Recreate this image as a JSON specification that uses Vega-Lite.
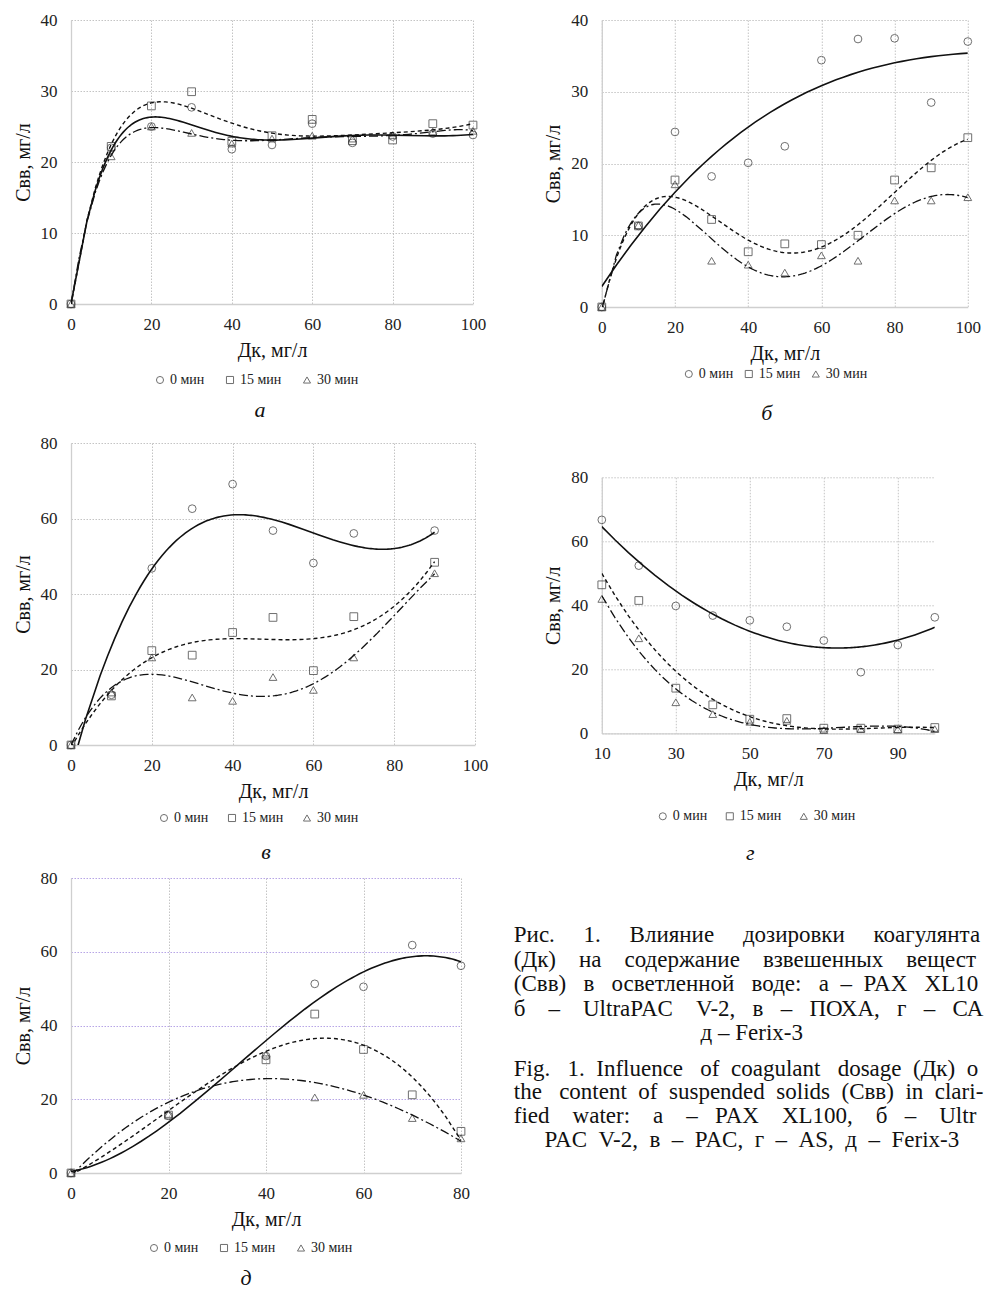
{
  "$schema": "https://vega.github.io/schema/vega-lite/v6.json",
  "padding": {"left": 13, "top": 11, "right": 0, "bottom": 0},
  "config": {
    "view": {"stroke": null},
    "font": "Liberation Serif",
    "axis": {"labelFont": "Liberation Serif", "labelFontSize": 17, "labelColor": "#222", "titleFont": "Liberation Serif", "titleFontSize": 20, "titleFontWeight": "normal", "titleColor": "#111", "ticks": false, "grid": true, "gridColor": "#b5b5b5", "gridDash": [1.5, 1.5], "gridWidth": 0.8, "domainColor": "#cfcfcf", "domainWidth": 1.3, "labelFlush": false, "labelOverlap": false},
    "axisX": {"labelPadding": 12, "titlePadding": 8},
    "axisY": {"labelPadding": 14, "titlePadding": 7},
    "legend": {"orient": "none", "direction": "horizontal", "title": null, "symbolSize": 50, "symbolStrokeWidth": 1, "symbolStrokeColor": "#333", "symbolFillColor": "transparent", "labelFont": "Liberation Serif", "labelFontSize": 14, "labelColor": "#222", "labelOffset": 3, "padding": 0},
    "title": {"font": "Liberation Serif", "fontSize": 22, "fontStyle": "italic", "fontWeight": "normal", "orient": "bottom", "anchor": "middle", "frame": "group", "color": "#111"}
  },
  "datasets": {
    "pa": [
      {"x": 0, "y": 0, "s": "0 мин"}, {"x": 10, "y": 22.0, "s": "0 мин"}, {"x": 20, "y": 25.0, "s": "0 мин"}, {"x": 30, "y": 27.7, "s": "0 мин"}, {"x": 40, "y": 21.8, "s": "0 мин"}, {"x": 50, "y": 22.4, "s": "0 мин"}, {"x": 60, "y": 25.4, "s": "0 мин"}, {"x": 70, "y": 22.7, "s": "0 мин"}, {"x": 80, "y": 23.6, "s": "0 мин"}, {"x": 90, "y": 24.0, "s": "0 мин"}, {"x": 100, "y": 23.8, "s": "0 мин"},
      {"x": 0, "y": 0, "s": "15 мин"}, {"x": 10, "y": 22.2, "s": "15 мин"}, {"x": 20, "y": 27.9, "s": "15 мин"}, {"x": 30, "y": 29.9, "s": "15 мин"}, {"x": 40, "y": 22.9, "s": "15 мин"}, {"x": 50, "y": 23.7, "s": "15 мин"}, {"x": 60, "y": 26.0, "s": "15 мин"}, {"x": 70, "y": 23.0, "s": "15 мин"}, {"x": 80, "y": 23.1, "s": "15 мин"}, {"x": 90, "y": 25.4, "s": "15 мин"}, {"x": 100, "y": 25.2, "s": "15 мин"},
      {"x": 0, "y": 0, "s": "30 мин"}, {"x": 10, "y": 20.8, "s": "30 мин"}, {"x": 20, "y": 25.0, "s": "30 мин"}, {"x": 30, "y": 24.1, "s": "30 мин"}, {"x": 40, "y": 22.6, "s": "30 мин"}, {"x": 50, "y": 23.3, "s": "30 мин"}, {"x": 60, "y": 23.7, "s": "30 мин"}, {"x": 70, "y": 23.3, "s": "30 мин"}, {"x": 80, "y": 23.8, "s": "30 мин"}, {"x": 90, "y": 24.3, "s": "30 мин"}, {"x": 100, "y": 24.4, "s": "30 мин"}
    ],
    "pb": [
      {"x": 0, "y": 0, "s": "0 мин"}, {"x": 10, "y": 11.3, "s": "0 мин"}, {"x": 20, "y": 24.4, "s": "0 мин"}, {"x": 30, "y": 18.2, "s": "0 мин"}, {"x": 40, "y": 20.1, "s": "0 мин"}, {"x": 50, "y": 22.4, "s": "0 мин"}, {"x": 60, "y": 34.4, "s": "0 мин"}, {"x": 70, "y": 37.35, "s": "0 мин"}, {"x": 80, "y": 37.45, "s": "0 мин"}, {"x": 90, "y": 28.5, "s": "0 мин"}, {"x": 100, "y": 37.0, "s": "0 мин"},
      {"x": 0, "y": 0, "s": "15 мин"}, {"x": 10, "y": 11.3, "s": "15 мин"}, {"x": 20, "y": 17.7, "s": "15 мин"}, {"x": 30, "y": 12.2, "s": "15 мин"}, {"x": 40, "y": 7.7, "s": "15 мин"}, {"x": 50, "y": 8.8, "s": "15 мин"}, {"x": 60, "y": 8.7, "s": "15 мин"}, {"x": 70, "y": 10.0, "s": "15 мин"}, {"x": 80, "y": 17.7, "s": "15 мин"}, {"x": 90, "y": 19.4, "s": "15 мин"}, {"x": 100, "y": 23.6, "s": "15 мин"},
      {"x": 0, "y": 0, "s": "30 мин"}, {"x": 10, "y": 11.4, "s": "30 мин"}, {"x": 20, "y": 17.1, "s": "30 мин"}, {"x": 30, "y": 6.45, "s": "30 мин"}, {"x": 40, "y": 5.9, "s": "30 мин"}, {"x": 50, "y": 4.8, "s": "30 мин"}, {"x": 60, "y": 7.2, "s": "30 мин"}, {"x": 70, "y": 6.45, "s": "30 мин"}, {"x": 80, "y": 14.85, "s": "30 мин"}, {"x": 90, "y": 14.85, "s": "30 мин"}, {"x": 100, "y": 15.3, "s": "30 мин"}
    ],
    "pv": [
      {"x": 0, "y": 0, "s": "0 мин"}, {"x": 10, "y": 13.3, "s": "0 мин"}, {"x": 20, "y": 46.8, "s": "0 мин"}, {"x": 30, "y": 62.6, "s": "0 мин"}, {"x": 40, "y": 69.1, "s": "0 мин"}, {"x": 50, "y": 56.8, "s": "0 мин"}, {"x": 60, "y": 48.2, "s": "0 мин"}, {"x": 70, "y": 56.05, "s": "0 мин"}, {"x": 90, "y": 56.8, "s": "0 мин"},
      {"x": 0, "y": 0, "s": "15 мин"}, {"x": 10, "y": 13.0, "s": "15 мин"}, {"x": 20, "y": 25.0, "s": "15 мин"}, {"x": 30, "y": 23.8, "s": "15 мин"}, {"x": 40, "y": 29.8, "s": "15 мин"}, {"x": 50, "y": 33.8, "s": "15 мин"}, {"x": 60, "y": 19.7, "s": "15 мин"}, {"x": 70, "y": 34.0, "s": "15 мин"}, {"x": 90, "y": 48.4, "s": "15 мин"},
      {"x": 0, "y": 0, "s": "30 мин"}, {"x": 10, "y": 13.9, "s": "30 мин"}, {"x": 20, "y": 23.2, "s": "30 мин"}, {"x": 30, "y": 12.6, "s": "30 мин"}, {"x": 40, "y": 11.7, "s": "30 мин"}, {"x": 50, "y": 18.0, "s": "30 мин"}, {"x": 60, "y": 14.6, "s": "30 мин"}, {"x": 70, "y": 23.2, "s": "30 мин"}, {"x": 90, "y": 45.5, "s": "30 мин"}
    ],
    "pg": [
      {"x": 10, "y": 66.7, "s": "0 мин"}, {"x": 20, "y": 52.4, "s": "0 мин"}, {"x": 30, "y": 39.8, "s": "0 мин"}, {"x": 40, "y": 36.8, "s": "0 мин"}, {"x": 50, "y": 35.3, "s": "0 мин"}, {"x": 60, "y": 33.3, "s": "0 мин"}, {"x": 70, "y": 29.0, "s": "0 мин"}, {"x": 80, "y": 19.1, "s": "0 мин"}, {"x": 90, "y": 27.6, "s": "0 мин"}, {"x": 100, "y": 36.25, "s": "0 мин"},
      {"x": 10, "y": 46.4, "s": "15 мин"}, {"x": 20, "y": 41.5, "s": "15 мин"}, {"x": 30, "y": 14.1, "s": "15 мин"}, {"x": 40, "y": 8.9, "s": "15 мин"}, {"x": 50, "y": 4.4, "s": "15 мин"}, {"x": 60, "y": 4.6, "s": "15 мин"}, {"x": 70, "y": 1.6, "s": "15 мин"}, {"x": 80, "y": 1.6, "s": "15 мин"}, {"x": 90, "y": 1.3, "s": "15 мин"}, {"x": 100, "y": 1.8, "s": "15 мин"},
      {"x": 10, "y": 42.0, "s": "30 мин"}, {"x": 20, "y": 29.7, "s": "30 мин"}, {"x": 30, "y": 9.7, "s": "30 мин"}, {"x": 40, "y": 6.0, "s": "30 мин"}, {"x": 50, "y": 3.6, "s": "30 мин"}, {"x": 60, "y": 3.9, "s": "30 мин"}, {"x": 70, "y": 1.0, "s": "30 мин"}, {"x": 80, "y": 1.3, "s": "30 мин"}, {"x": 90, "y": 1.3, "s": "30 мин"}, {"x": 100, "y": 1.3, "s": "30 мин"}
    ],
    "pd": [
      {"x": 0, "y": 0, "s": "0 мин"}, {"x": 20, "y": 15.5, "s": "0 мин"}, {"x": 40, "y": 31.7, "s": "0 мин"}, {"x": 50, "y": 51.3, "s": "0 мин"}, {"x": 60, "y": 50.5, "s": "0 мин"}, {"x": 70, "y": 61.8, "s": "0 мин"}, {"x": 80, "y": 56.2, "s": "0 мин"},
      {"x": 0, "y": 0, "s": "15 мин"}, {"x": 20, "y": 15.7, "s": "15 мин"}, {"x": 40, "y": 30.7, "s": "15 мин"}, {"x": 50, "y": 43.1, "s": "15 мин"}, {"x": 60, "y": 33.5, "s": "15 мин"}, {"x": 70, "y": 21.2, "s": "15 мин"}, {"x": 80, "y": 11.3, "s": "15 мин"},
      {"x": 0, "y": 0, "s": "30 мин"}, {"x": 20, "y": 16.0, "s": "30 мин"}, {"x": 40, "y": 32.1, "s": "30 мин"}, {"x": 50, "y": 20.5, "s": "30 мин"}, {"x": 60, "y": 21.2, "s": "30 мин"}, {"x": 70, "y": 14.9, "s": "30 мин"}, {"x": 80, "y": 9.4, "s": "30 мин"}
    ],
    "capRu": [
      {"line": 1, "part": "body", "t": "Рис.\u00a0\u00a0\u00a0\u00a0\u00a01.\u00a0\u00a0\u00a0\u00a0\u00a0Влияние\u00a0\u00a0\u00a0\u00a0\u00a0дозировки\u00a0\u00a0\u00a0\u00a0\u00a0коагулянта"},
      {"line": 2, "part": "body", "t": "(Дк)\u00a0\u00a0\u00a0\u00a0на\u00a0\u00a0\u00a0\u00a0содержание\u00a0\u00a0\u00a0\u00a0взвешенных\u00a0\u00a0\u00a0\u00a0веществ"},
      {"line": 3, "part": "body", "t": "(Свв)\u00a0\u00a0\u00a0в\u00a0\u00a0\u00a0осветленной\u00a0\u00a0\u00a0воде:\u00a0\u00a0\u00a0а\u00a0\u00a0–\u00a0\u00a0PAX\u00a0\u00a0\u00a0XL100,"},
      {"line": 4, "part": "body", "t": "б\u00a0\u00a0\u00a0\u00a0–\u00a0\u00a0\u00a0\u00a0UltraPAC\u00a0\u00a0\u00a0\u00a0V-2,\u00a0\u00a0\u00a0в\u00a0\u00a0\u00a0–\u00a0\u00a0\u00a0ПОХА,\u00a0\u00a0\u00a0г\u00a0\u00a0\u00a0–\u00a0\u00a0\u00a0СА,"},
      {"line": 5, "part": "end", "t": "д – Ferix-3"}
    ],
    "capEn": [
      {"line": 1, "part": "body", "t": "Fig.\u00a0\u00a0\u00a01.\u00a0\u00a0Influence\u00a0\u00a0\u00a0of\u00a0\u00a0coagulant\u00a0\u00a0\u00a0dosage\u00a0\u00a0(Дк)\u00a0\u00a0on"},
      {"line": 2, "part": "body", "t": "the\u00a0\u00a0\u00a0content\u00a0\u00a0of\u00a0\u00a0suspended\u00a0\u00a0solids\u00a0\u00a0(Свв)\u00a0\u00a0in\u00a0\u00a0clari-"},
      {"line": 3, "part": "body", "t": "fied\u00a0\u00a0\u00a0\u00a0water:\u00a0\u00a0\u00a0\u00a0а\u00a0\u00a0\u00a0\u00a0–\u00a0\u00a0\u00a0PAX\u00a0\u00a0\u00a0\u00a0XL100,\u00a0\u00a0\u00a0\u00a0б\u00a0\u00a0\u00a0–\u00a0\u00a0\u00a0\u00a0Ultra-"},
      {"line": 4, "part": "end", "t": "PAC\u00a0\u00a0V-2,\u00a0\u00a0в\u00a0\u00a0–\u00a0\u00a0PAC,\u00a0\u00a0г\u00a0\u00a0–\u00a0\u00a0AS,\u00a0\u00a0д\u00a0\u00a0–\u00a0\u00a0Ferix-3"}
    ]
  },
  "bounds": "flush",
  "spacing": 530.8,
  "resolve": {"scale": {"shape": "independent"}, "legend": {"shape": "independent"}},
  "hconcat": [
    {
      "bounds": "flush",
      "spacing": 139,
      "resolve": {"scale": {"shape": "independent"}, "legend": {"shape": "independent"}},
      "vconcat": [
        {
          "width": 402, "height": 284,
          "title": {"text": "а", "dx": -12, "offset": 13},
          "data": {"name": "pa"},
          "encoding": {
            "x": {"field": "x", "type": "quantitative", "scale": {"domain": [0, 100], "nice": false}, "axis": {"values": [0, 20, 40, 60, 80, 100], "title": "Дк, мг/л"}},
            "y": {"field": "y", "type": "quantitative", "scale": {"domain": [0, 40], "nice": false}, "axis": {"values": [0, 10, 20, 30, 40], "title": "Свв, мг/л"}}
          },
          "layer": [
            {"mark": {"type": "point", "filled": false, "color": "#333", "strokeWidth": 1, "size": 60}, "encoding": {"shape": {"field": "s", "type": "nominal", "scale": {"domain": ["0 мин", "15 мин", "30 мин"], "range": ["circle", "square", "triangle-up"]}, "legend": {"legendX": 82, "legendY": 353, "columnPadding": 18}}}},
            {"transform": [{"filter": "datum.s === '0 мин'"}, {"regression": "y", "on": "x", "method": "poly", "order": 6, "extent": [0, 100]}], "mark": {"type": "line", "color": "#111", "strokeWidth": 1.6, "clip": true}},
            {"transform": [{"filter": "datum.s === '15 мин'"}, {"regression": "y", "on": "x", "method": "poly", "order": 6, "extent": [0, 100]}], "mark": {"type": "line", "color": "#111", "strokeWidth": 1.4, "strokeDash": [4, 3], "clip": true}},
            {"transform": [{"filter": "datum.s === '30 мин'"}, {"regression": "y", "on": "x", "method": "poly", "order": 6, "extent": [0, 100]}], "mark": {"type": "line", "color": "#111", "strokeWidth": 1.3, "strokeDash": [9, 3, 2, 3], "clip": true}}
          ]
        },
        {
          "bounds": "flush",
          "spacing": 133,
          "resolve": {"scale": {"shape": "independent"}, "legend": {"shape": "independent"}},
          "vconcat": [
            {
              "width": 404, "height": 302,
              "title": {"text": "в", "dx": -7, "offset": 17},
              "data": {"name": "pv"},
              "encoding": {
                "x": {"field": "x", "type": "quantitative", "scale": {"domain": [0, 100], "nice": false}, "axis": {"values": [0, 20, 40, 60, 80, 100], "title": "Дк, мг/л"}},
                "y": {"field": "y", "type": "quantitative", "scale": {"domain": [0, 80], "nice": false}, "axis": {"values": [0, 20, 40, 60, 80], "title": "Свв, мг/л"}}
              },
              "layer": [
                {"mark": {"type": "point", "filled": false, "color": "#333", "strokeWidth": 1, "size": 60}, "encoding": {"shape": {"field": "s", "type": "nominal", "scale": {"domain": ["0 мин", "15 мин", "30 мин"], "range": ["circle", "square", "triangle-up"]}, "legend": {"legendX": 86, "legendY": 368, "columnPadding": 16}}}},
                {"transform": [{"filter": "datum.s === '0 мин'"}, {"regression": "y", "on": "x", "method": "poly", "order": 3, "extent": [0, 90]}], "mark": {"type": "line", "color": "#111", "strokeWidth": 1.6, "clip": true}},
                {"transform": [{"filter": "datum.s === '15 мин'"}, {"regression": "y", "on": "x", "method": "poly", "order": 3, "extent": [0, 90]}], "mark": {"type": "line", "color": "#111", "strokeWidth": 1.4, "strokeDash": [4, 3], "clip": true}},
                {"transform": [{"filter": "datum.s === '30 мин'"}, {"regression": "y", "on": "x", "method": "poly", "order": 4, "extent": [0, 90]}], "mark": {"type": "line", "color": "#111", "strokeWidth": 1.3, "strokeDash": [9, 3, 2, 3], "clip": true}}
              ]
            },
            {
              "width": 390, "height": 295,
              "title": {"text": "д", "dx": -20, "offset": 13},
              "data": {"name": "pd"},
              "encoding": {
                "x": {"field": "x", "type": "quantitative", "scale": {"domain": [0, 80], "nice": false}, "axis": {"values": [0, 20, 40, 60, 80], "title": "Дк, мг/л"}},
                "y": {"field": "y", "type": "quantitative", "scale": {"domain": [0, 80], "nice": false}, "axis": {"values": [0, 20, 40, 60, 80], "title": "Свв, мг/л", "gridColor": "#a48ee0"}}
              },
              "layer": [
                {"mark": {"type": "point", "filled": false, "color": "#333", "strokeWidth": 1, "size": 60}, "encoding": {"shape": {"field": "s", "type": "nominal", "scale": {"domain": ["0 мин", "15 мин", "30 мин"], "range": ["circle", "square", "triangle-up"]}, "legend": {"legendX": 76, "legendY": 363, "columnPadding": 18}}}},
                {"transform": [{"filter": "datum.s === '0 мин'"}, {"regression": "y", "on": "x", "method": "poly", "order": 3, "extent": [0, 80]}], "mark": {"type": "line", "color": "#111", "strokeWidth": 1.6, "clip": true}},
                {"transform": [{"filter": "datum.s === '15 мин'"}, {"regression": "y", "on": "x", "method": "poly", "order": 3, "extent": [0, 80]}], "mark": {"type": "line", "color": "#111", "strokeWidth": 1.4, "strokeDash": [4, 3], "clip": true}},
                {"transform": [{"filter": "datum.s === '30 мин'"}, {"regression": "y", "on": "x", "method": "poly", "order": 3, "extent": [0, 80]}], "mark": {"type": "line", "color": "#111", "strokeWidth": 1.3, "strokeDash": [9, 3, 2, 3], "clip": true}}
              ]
            }
          ]
        }
      ]
    },
    {
      "bounds": "flush",
      "spacing": 170.3,
      "resolve": {"scale": {"shape": "independent"}, "legend": {"shape": "independent"}},
      "vconcat": [
        {
          "width": 366, "height": 287,
          "title": {"text": "б", "dx": -18, "offset": 22},
          "data": {"name": "pb"},
          "encoding": {
            "x": {"field": "x", "type": "quantitative", "scale": {"domain": [0, 100], "nice": false}, "axis": {"values": [0, 20, 40, 60, 80, 100], "title": "Дк, мг/л"}},
            "y": {"field": "y", "type": "quantitative", "scale": {"domain": [0, 40], "nice": false}, "axis": {"values": [0, 10, 20, 30, 40], "title": "Свв, мг/л"}}
          },
          "layer": [
            {"mark": {"type": "point", "filled": false, "color": "#333", "strokeWidth": 1, "size": 60}, "encoding": {"shape": {"field": "s", "type": "nominal", "scale": {"domain": ["0 мин", "15 мин", "30 мин"], "range": ["circle", "square", "triangle-up"]}, "legend": {"legendX": 80, "legendY": 347, "columnPadding": 8}}}},
            {"transform": [{"filter": "datum.s === '0 мин'"}, {"regression": "y", "on": "x", "method": "poly", "order": 3, "extent": [0, 100]}], "mark": {"type": "line", "color": "#111", "strokeWidth": 1.6, "clip": true}},
            {"transform": [{"filter": "datum.s === '15 мин'"}, {"regression": "y", "on": "x", "method": "poly", "order": 5, "extent": [0, 100]}], "mark": {"type": "line", "color": "#111", "strokeWidth": 1.4, "strokeDash": [4, 3], "clip": true}},
            {"transform": [{"filter": "datum.s === '30 мин'"}, {"regression": "y", "on": "x", "method": "poly", "order": 5, "extent": [0, 100]}], "mark": {"type": "line", "color": "#111", "strokeWidth": 1.3, "strokeDash": [9, 3, 2, 3], "clip": true}}
          ]
        },
        {
          "bounds": "flush",
          "spacing": 201.7,
          "resolve": {"scale": {"shape": "independent"}, "legend": {"shape": "independent"}},
          "vconcat": [
            {
              "width": 333, "height": 256,
              "title": {"text": "г", "dx": -18, "offset": 20},
              "data": {"name": "pg"},
              "encoding": {
                "x": {"field": "x", "type": "quantitative", "scale": {"domain": [10, 100], "nice": false, "zero": false}, "axis": {"values": [10, 30, 50, 70, 90], "title": "Дк, мг/л"}},
                "y": {"field": "y", "type": "quantitative", "scale": {"domain": [0, 80], "nice": false}, "axis": {"values": [0, 20, 40, 60, 80], "title": "Свв, мг/л"}}
              },
              "layer": [
                {"mark": {"type": "point", "filled": false, "color": "#333", "strokeWidth": 1, "size": 60}, "encoding": {"shape": {"field": "s", "type": "nominal", "scale": {"domain": ["0 мин", "15 мин", "30 мин"], "range": ["circle", "square", "triangle-up"]}, "legend": {"legendX": 54, "legendY": 332, "columnPadding": 15}}}},
                {"transform": [{"filter": "datum.s === '0 мин'"}, {"regression": "y", "on": "x", "method": "poly", "order": 2, "extent": [10, 100]}], "mark": {"type": "line", "color": "#111", "strokeWidth": 1.6, "clip": true}},
                {"transform": [{"filter": "datum.s === '15 мин'"}, {"regression": "y", "on": "x", "method": "poly", "order": 3, "extent": [10, 100]}], "mark": {"type": "line", "color": "#111", "strokeWidth": 1.4, "strokeDash": [4, 3], "clip": true}},
                {"transform": [{"filter": "datum.s === '30 мин'"}, {"regression": "y", "on": "x", "method": "poly", "order": 3, "extent": [10, 100]}], "mark": {"type": "line", "color": "#111", "strokeWidth": 1.3, "strokeDash": [9, 3, 2, 3], "clip": true}}
              ]
            },
            {
              "bounds": "flush",
              "spacing": 34.6,
              "vconcat": [
                {
                  "width": 300, "height": 98.4,
                  "data": {"name": "capRu"},
                  "encoding": {
                    "y": {"field": "line", "type": "ordinal", "scale": {"type": "point", "padding": 0, "domain": [1, 2, 3, 4, 5]}, "axis": null},
                    "text": {"field": "t", "type": "nominal"}
                  },
                  "layer": [
                    {"transform": [{"filter": "datum.part === 'body'"}], "mark": {"type": "text", "align": "left", "baseline": "middle", "dx": -238, "font": "Liberation Serif", "fontSize": 23, "limit": 470, "ellipsis": "\u200b", "color": "#111"}},
                    {"transform": [{"filter": "datum.part === 'end'"}], "mark": {"type": "text", "align": "center", "baseline": "middle", "dx": 0, "font": "Liberation Serif", "fontSize": 23, "color": "#111"}}
                  ]
                },
                {
                  "width": 300, "height": 71,
                  "data": {"name": "capEn"},
                  "encoding": {
                    "y": {"field": "line", "type": "ordinal", "scale": {"type": "point", "padding": 0, "domain": [1, 2, 3, 4]}, "axis": null},
                    "text": {"field": "t", "type": "nominal"}
                  },
                  "layer": [
                    {"transform": [{"filter": "datum.part === 'body'"}], "mark": {"type": "text", "align": "left", "baseline": "middle", "dx": -238, "font": "Liberation Serif", "fontSize": 23, "limit": 470, "ellipsis": "\u200b", "color": "#111"}},
                    {"transform": [{"filter": "datum.part === 'end'"}], "mark": {"type": "text", "align": "center", "baseline": "middle", "dx": 0, "font": "Liberation Serif", "fontSize": 23, "color": "#111"}}
                  ]
                }
              ]
            }
          ]
        }
      ]
    }
  ]
}
